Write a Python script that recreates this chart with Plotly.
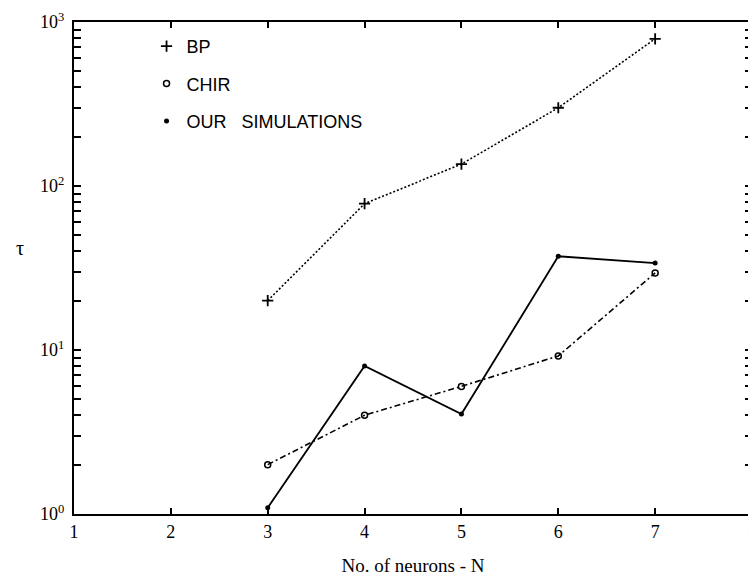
import plotly.graph_objects as go

# ---- data ----
neurons = [3, 4, 5, 6, 7]
bp_values = [20, 78, 136, 300, 790]
chir_values = [2.0, 4.0, 6.0, 9.2, 29.5]
ours_values = [1.09, 8.0, 4.07, 37.3, 33.9]

x_ticks = [1, 2, 3, 4, 5, 6, 7, 8]
decades = [1, 10, 100, 1000]
decade_labels = ["10<sup>0</sup>", "10<sup>1</sup>", "10<sup>2</sup>", "10<sup>3</sup>"]
minor_multipliers = [2, 3, 4, 5, 6, 7, 8, 9]

# minor log tick positions between the decades
y_minor_vals = [d * m for d in decades[:-1] for m in minor_multipliers]

fig = go.Figure()

fig.add_trace(go.Scatter(
    x=neurons, y=bp_values, mode="lines+markers", name="BP",
    line=dict(color="black", width=1.6, dash="2px,2px"),
    marker=dict(symbol="cross-thin", size=8, line=dict(color="black", width=1.8)),
    showlegend=False))
fig.add_trace(go.Scatter(
    x=neurons, y=chir_values, mode="lines+markers", name="CHIR",
    line=dict(color="black", width=1.6, dash="6px,3px,2px,3px"),
    marker=dict(symbol="circle-open", size=6, color="black", line=dict(width=1.5)),
    showlegend=False))
fig.add_trace(go.Scatter(
    x=neurons, y=ours_values, mode="lines+markers", name="OUR   SIMULATIONS",
    line=dict(color="black", width=1.8),
    marker=dict(symbol="circle", size=5, color="black"),
    showlegend=False))

# legend entries (markers only)
fig.add_trace(go.Scatter(x=[None], y=[None], mode="markers", name="BP",
                         legendgroup="a",
                         marker=dict(symbol="cross-thin", size=8, color="black",
                                     line=dict(color="black", width=1.8))))
fig.add_trace(go.Scatter(x=[None], y=[None], mode="markers", name="CHIR",
                         legendgroup="b",
                         marker=dict(symbol="circle-open", size=6, color="black",
                                     line=dict(width=1.5))))
fig.add_trace(go.Scatter(x=[None], y=[None], mode="markers", name="OUR   SIMULATIONS",
                         legendgroup="c",
                         marker=dict(symbol="circle", size=5, color="black")))

axis_common = dict(
    showline=True, linecolor="black", linewidth=2, mirror="ticks",
    ticks="inside", tickcolor="black", tickwidth=2,
    showgrid=False, zeroline=False, automargin=False,
    ticklabeloverflow="allow",
    tickfont=dict(family="Liberation Serif", size=18, color="black"),
)

fig.update_xaxes(range=[1, 8], tickvals=x_ticks, ticklen=6,
                 title=dict(text="No. of neurons - N", standoff=18,
                            font=dict(family="Liberation Serif", size=19, color="black")),
                 **axis_common)
fig.update_yaxes(type="log", range=[0, 3], tickvals=decades, ticktext=decade_labels,
                 ticklen=7, ticklabelstandoff=4,
                 minor=dict(tickvals=y_minor_vals, ticks="inside", ticklen=7,
                            tickwidth=2, tickcolor="black", showgrid=False),
                 **axis_common)

fig.add_annotation(text="τ", xref="paper", yref="paper", x=-0.079, y=0.54,
                   xanchor="center", yanchor="middle",
                   showarrow=False, font=dict(family="Liberation Serif", size=20, color="black"))

fig.update_layout(
    width=756, height=576,
    margin=dict(l=66, r=12, t=14, b=70),
    paper_bgcolor="white", plot_bgcolor="white",
    legend=dict(x=0.107, y=0.988, xanchor="left", yanchor="top",
                bgcolor="rgba(0,0,0,0)", tracegroupgap=11,
                font=dict(family="Liberation Sans", size=18, color="black")),
)

fig.write_html("out.html")
